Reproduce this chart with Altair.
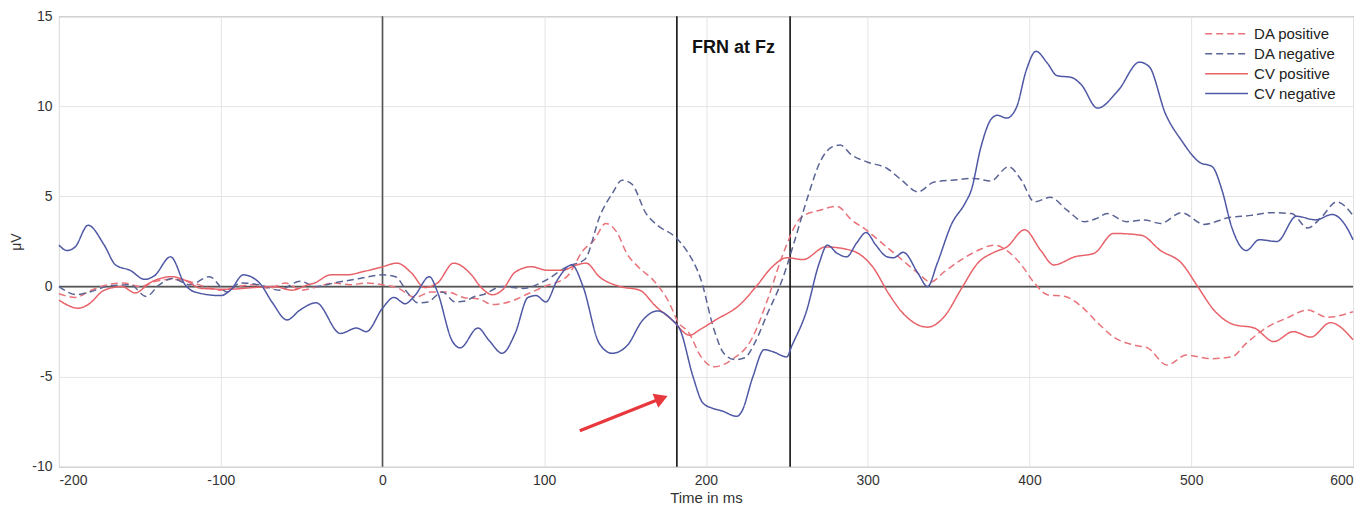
import altair as alt
import pandas as pd

# ---------------- data ----------------
series_names = ["DA positive", "DA negative", "CV positive", "CV negative"]
series_colors = ["#e8747b", "#5a6495", "#e8626a", "#4e58a4"]
series_dashes = [[7, 4], [7, 4], [1, 0], [1, 0]]

dap_t = [-200, -190, -180, -170, -160, -150, -140, -130, -120, -110, -100, -90, -80, -70, -60, -50, -40, -30, -20, -10,
         0, 10, 20, 30, 40, 50, 60, 68, 80, 90, 100, 114, 124, 131, 138, 145, 151, 158, 168, 177, 183, 189, 197, 205,
         216, 228, 238, 247, 259, 271, 281, 290, 299, 309, 321, 331, 339, 347, 358, 368, 378, 386, 395, 403, 411, 422,
         432, 442, 452, 465, 473, 485, 497, 512, 525, 534, 547, 559, 572, 584, 600]
dap_v = [-0.4, -0.6, -0.2, 0.1, 0.2, 0.0, 0.3, 0.4, 0.3, 0.0, -0.2, 0.0, 0.1, -0.1, 0.2, -0.2, 0.0, 0.2, 0.1, 0.2,
         0.1, -0.1, -0.6, -0.3, -0.3, -0.6, -0.7, -1.0, -0.8, -0.4, 0.0, 0.55, 2.0, 2.6, 3.5, 3.0, 1.85, 1.1, 0.3, -0.85,
         -2.0, -2.5, -3.9, -4.45, -4.05, -2.95, -0.75, 1.65, 3.85, 4.25, 4.45, 3.7, 3.15, 2.4, 1.5, 0.75, 0.25, 0.8,
         1.5, 2.0, 2.3, 2.0, 1.2, 0.2, -0.45, -0.55, -1.1, -2.0, -2.8, -3.25, -3.4, -4.35, -3.8, -4.0, -3.9, -3.15,
         -2.25, -1.75, -1.3, -1.7, -1.4]

dan_t = [-200, -189, -181, -168, -156, -146, -138, -130, -119, -107, -96, -88, -76, -64, -51, -41, -30, -14, 0, 8,
         16, 22, 28, 37, 45, 51, 57, 62, 74, 87, 101, 114, 125, 135, 142, 148, 154, 163, 170, 181, 188, 197, 205, 211,
         218, 224, 230, 238, 247, 255, 263, 271, 278, 283, 290, 300, 312, 321, 331, 341, 352, 366, 376, 387, 395, 403,
         413, 423, 434, 442, 448, 460, 471, 481, 494, 508, 522, 537, 549, 562, 572, 580, 590, 600]
dan_v = [0.0, -0.45, -0.3, 0.05, 0.1, -0.55, 0.1, 0.45, 0.1, 0.55, -0.3, 0.2, 0.1, -0.2, 0.3, 0.0, 0.2, 0.45, 0.65, 0.55,
         -0.4, -0.9, -0.85, -0.3, -0.85, -0.8, -0.55, -0.45, 0.0, -0.1, 0.35, 1.1, 1.5, 4.05, 5.15, 5.9, 5.7, 4.05, 3.4,
         2.75, 2.0, 0.35, -2.4, -3.7, -4.05, -3.95, -3.15, -1.5, 0.35, 2.6, 5.0, 7.0, 7.75, 7.85, 7.3, 6.9, 6.55, 5.9,
         5.25, 5.8, 5.9, 6.0, 5.85, 6.65, 5.9, 4.7, 4.95, 4.25, 3.6, 3.8, 4.05, 3.6, 3.7, 3.5, 4.1, 3.45, 3.8, 3.95,
         4.1, 4.05, 3.25, 3.8, 4.7, 3.95]

cvp_t = [-200, -188, -182, -172, -161, -153, -143, -130, -122, -112, -96, -79, -67, -56, -46, -42, -32, -22, -11, 0,
         9, 18, 26, 34, 44, 55, 61, 68, 74, 82, 92, 102, 111, 120, 126, 134, 147, 159, 169, 179, 190, 196, 206, 221,
         231, 241, 250, 260, 274, 290, 303, 313, 321, 337, 347, 358, 368, 378, 386, 397, 407, 415, 428, 440, 452, 469,
         481, 494, 504, 514, 526, 539, 551, 563, 574, 586, 600]
cvp_v = [-0.75, -1.2, -1.0, -0.2, 0.0, -0.35, 0.25, 0.55, 0.35, -0.1, -0.15, -0.05, 0.0, -0.2, 0.1, 0.2, 0.65, 0.65,
         0.85, 1.1, 1.3, 0.75, -0.05, 0.2, 1.3, 0.65, -0.05, -0.45, -0.2, 0.8, 1.1, 0.9, 0.9, 1.2, 1.3, 0.55, 0.0, -0.2,
         -1.1, -1.85, -2.7, -2.4, -1.85, -1.0, 0.0, 1.1, 1.6, 1.5, 2.2, 2.0, 1.1, -0.4, -1.4, -2.25, -1.7, -0.1, 1.3,
         1.9, 2.2, 3.15, 2.0, 1.2, 1.65, 1.85, 2.95, 2.85, 2.0, 1.3, 0.0, -1.3, -2.1, -2.3, -3.05, -2.5, -2.8, -2.0,
         -2.95]

cvn_t = [-200, -195, -190, -182, -172, -165, -156, -147, -141, -131, -122, -116, -100, -94, -86, -76, -68, -59, -51,
         -41, -26, -16, -10, 0, 7, 14, 20, 29, 34, 43, 48, 59, 66, 74, 82, 90, 95, 101, 108, 117, 124, 134, 142, 151,
         161, 170, 179, 184, 192, 198, 204, 210, 219, 222, 229, 236, 241, 250, 253, 262, 270, 275, 281, 287, 293, 299,
         305, 312, 316, 322, 331, 337, 343, 352, 360, 364, 370, 376, 380, 386, 392, 398, 404, 411, 417, 426, 432, 442,
         455, 468, 474, 484, 494, 505, 513, 519, 525, 534, 542, 553, 565, 577, 587, 596, 600]
cvn_v = [2.3, 2.0, 2.2, 3.4, 2.3, 1.2, 0.9, 0.4, 0.6, 1.65, 0.1, -0.3, -0.5, -0.2, 0.65, 0.2, -0.9, -1.85, -1.3, -0.9,
         -2.6, -2.3, -2.5, -1.2, -0.6, -0.95, -0.5, 0.55, -0.3, -3.0, -3.4, -2.3, -3.0, -3.7, -2.6, -0.6, -0.5, -0.85,
         0.35, 1.2, 0.0, -3.15, -3.7, -3.3, -1.85, -1.35, -1.85, -2.4, -5.0, -6.45, -6.75, -6.9, -7.2, -6.95, -5.0,
         -3.5, -3.6, -3.9, -3.3, -1.4, 1.3, 2.3, 1.85, 1.65, 2.4, 3.0, 2.3, 1.65, 1.6, 1.9, 0.75, 0.0, 1.3, 3.5, 4.6,
         5.35, 7.75, 9.25, 9.5, 9.35, 9.95, 12.0, 13.05, 12.4, 11.7, 11.6, 11.2, 9.9, 10.9, 12.45, 12.2, 9.6, 8.1, 6.9,
         6.65, 5.35, 3.3, 2.0, 2.6, 2.5, 3.9, 3.7, 4.0, 3.3, 2.6]

frn_window = [182, 252]          # vertical black lines (ms)
frn_label = ["FRN at Fz"]
frn_label_t = [217]
frn_label_v = [13.25]
arrow_t = [122]
arrow_v = [-8.0]
arrow_t2 = [171]
arrow_v2 = [-6.25]
arrow_head_t = [172.5]
arrow_head_v = [-6.2]

x_ticks = [-200, -100, 0, 100, 200, 300, 400, 500, 600]
y_ticks = [-10, -5, 0, 5, 10, 15]

# ---------------- build tables ----------------
rows = []
for name, ts, vs in zip(series_names, [dap_t, dan_t, cvp_t, cvn_t], [dap_v, dan_v, cvp_v, cvn_v]):
    for t, v in zip(ts, vs):
        rows.append({"t": t, "v": v, "series": name})
df = pd.DataFrame(rows)

FONT = "Liberation Sans"

x_enc = alt.X("t:Q", scale=alt.Scale(domain=[-200, 600], nice=False, zero=False),
              axis=alt.Axis(values=x_ticks, title="Time in ms", grid=True, gridColor="#e4e4e4",
                            ticks=False, domain=False, labelPadding=7, titlePadding=3,
                            labelExpr="toString(datum.value)",
                            labelFontSize=14, titleFontSize=15, labelColor="#333333",
                            titleColor="#333333", titleFontWeight="normal", labelFont=FONT, titleFont=FONT))
y_enc = alt.Y("v:Q", scale=alt.Scale(domain=[-10, 15], nice=False, zero=False),
              axis=alt.Axis(values=y_ticks, title="μV", grid=True, gridColor="#e4e4e4",
                            ticks=False, domain=False, labelPadding=7, titlePadding=8,
                            labelExpr="toString(datum.value)",
                            labelFontSize=14, titleFontSize=14, labelColor="#333333",
                            titleColor="#333333", titleFontWeight="normal", labelFont=FONT, titleFont=FONT))

legend = alt.Legend(title=None, orient="none", legendX=1155, legendY=4, symbolType="M-2.2,0H2.2",
                    symbolSize=380, symbolStrokeWidth=1.5, labelFontSize=15, labelFont=FONT,
                    labelOffset=17, labelColor="#222222", rowPadding=1, padding=3)

lines = alt.Chart(df).mark_line(strokeWidth=1.5, interpolate="monotone").encode(
    x=x_enc,
    y=y_enc,
    color=alt.Color("series:N", scale=alt.Scale(domain=series_names, range=series_colors), legend=legend),
    strokeDash=alt.StrokeDash("series:N", scale=alt.Scale(domain=series_names, range=series_dashes), legend=legend),
    detail="series:N",
)

zero_h = alt.Chart(pd.DataFrame({"v": [0]})).mark_rule(color="#555555", strokeWidth=1.6).encode(y=y_enc)
zero_v = alt.Chart(pd.DataFrame({"t": [0]})).mark_rule(color="#555555", strokeWidth=1.6).encode(x=x_enc)
frn_lines = alt.Chart(pd.DataFrame({"t": frn_window})).mark_rule(color="#111111", strokeWidth=1.6).encode(x=x_enc)

frn_text = alt.Chart(pd.DataFrame({"t": frn_label_t, "v": frn_label_v, "label": frn_label})).mark_text(
    font=FONT, fontSize=18, fontWeight="bold", color="#111111", align="center", baseline="middle"
).encode(x=x_enc, y=y_enc, text="label:N")

arrow_line = alt.Chart(pd.DataFrame({"t": arrow_t, "v": arrow_v, "t2": arrow_t2, "v2": arrow_v2})).mark_rule(
    color="#e8383d", strokeWidth=3.2
).encode(x=x_enc, y=y_enc, x2="t2:Q", y2="v2:Q")

arrow_head = alt.Chart(pd.DataFrame({"t": arrow_head_t, "v": arrow_head_v})).mark_point(
    shape="triangle-right", size=230, filled=True, color="#e8383d", opacity=1, angle=338
).encode(x=x_enc, y=y_enc)

chart = alt.layer(zero_h, zero_v, frn_lines, lines, frn_text, arrow_line, arrow_head).properties(
    width=1295, height=451,
    autosize=alt.AutoSizeParams(type="none"),
    padding={"left": 51, "top": 8, "right": 10, "bottom": 40},
    background="white",
).configure_view(stroke="#6b6b6b", strokeWidth=1)

chart.save("out.html", embed_options={"renderer": "svg", "actions": False})
